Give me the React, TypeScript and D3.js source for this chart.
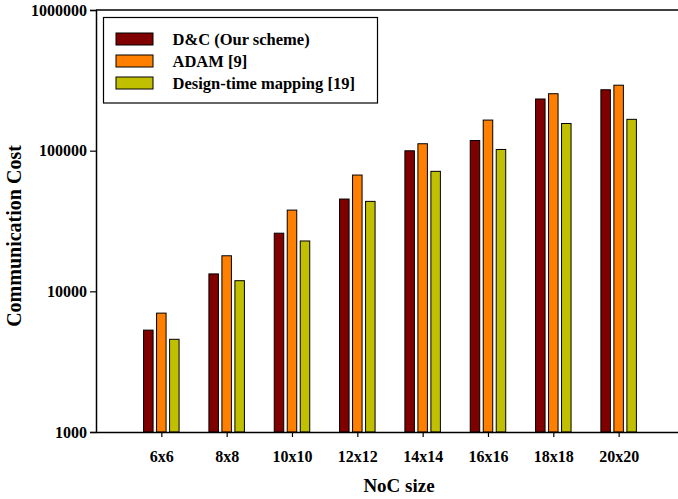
import React, { useEffect, useRef } from "react";
import * as d3 from "d3";

// NoC sizes on the x axis
const categories = ["6x6", "8x8", "10x10", "12x12", "14x14", "16x16", "18x18", "20x20"];

// Communication cost per scheme
const dcValues = [5300, 13300, 25900, 45300, 99800, 118000, 233000, 271000];
const adamValues = [7000, 17900, 37800, 67100, 112000, 165000, 254000, 292000];
const designTimeValues = [4560, 11900, 22800, 43600, 71300, 102000, 156000, 167000];

const seriesNames = ["D&C (Our scheme)", "ADAM [9]", "Design-time mapping [19]"];
const seriesColors = ["#800000", "#FF8000", "#C0C000"];

const yTicks = [1000, 10000, 100000, 1000000];

const App = () => {
  const ref = useRef<SVGSVGElement>(null);

  useEffect(() => {
    const width = 678,
      height = 499,
      left = 96,
      top = 10,
      bottom = 432,
      step = 65.33,
      barWidth = 9.5,
      barPitch = 13;

    const svg = d3.select(ref.current);
    svg.selectAll("*").remove();
    svg.attr("width", width).attr("height", height);

    const font = "'Liberation Serif', 'Times New Roman', serif";

    // x is a plain linear scale, with an empty slot before the first group
    const x = d3
      .scaleLinear()
      .domain([0, categories.length + 1])
      .range([left, left + step * (categories.length + 1)]);

    const y = d3.scaleLog().domain([1000, 1000000]).range([bottom, top]);

    const series = [dcValues, adamValues, designTimeValues];

    // Bars
    series.forEach((values, s) => {
      svg
        .append("g")
        .selectAll("rect")
        .data(values)
        .enter()
        .append("rect")
        .attr("x", (d, i) => x(i + 1) + (s - 1) * barPitch - barWidth / 2)
        .attr("y", (d) => y(d))
        .attr("width", barWidth)
        .attr("height", (d) => bottom - y(d))
        .attr("fill", seriesColors[s])
        .attr("stroke", "#000")
        .attr("stroke-width", 1);
    });

    // Frame: top line
    svg
      .append("line")
      .attr("x1", left)
      .attr("x2", width)
      .attr("y1", top)
      .attr("y2", top)
      .attr("stroke", "#000")
      .attr("stroke-width", 1.5);

    // Y axis
    const yAxis = d3
      .axisLeft(y)
      .tickValues(yTicks)
      .tickFormat((d) => String(d))
      .tickSize(6)
      .tickPadding(3);
    const gy = svg
      .append("g")
      .attr("transform", "translate(" + left + ",0)")
      .call(yAxis);
    gy.select(".domain").attr("stroke", "#000").attr("stroke-width", 1.5);
    gy.selectAll(".tick line").attr("stroke", "#000").attr("stroke-width", 1.2);
    gy.selectAll(".tick text")
      .attr("font-family", font)
      .attr("font-weight", "bold")
      .attr("font-size", "16px")
      .attr("fill", "#000");

    // X axis
    const xAxis = d3
      .axisBottom(x)
      .tickValues(categories.map((c, i) => i + 1))
      .tickFormat((d) => categories[(d as number) - 1])
      .tickSize(5)
      .tickSizeOuter(0)
      .tickPadding(14);
    const gx = svg
      .append("g")
      .attr("transform", "translate(0," + bottom + ")")
      .call(xAxis);
    gx.select(".domain").attr("stroke", "#000").attr("stroke-width", 1.5);
    gx.selectAll(".tick line").attr("stroke", "#000").attr("stroke-width", 1.2);
    gx.selectAll(".tick text")
      .attr("font-family", font)
      .attr("font-weight", "bold")
      .attr("font-size", "16px")
      .attr("fill", "#000");

    // Axis titles
    svg
      .append("text")
      .attr("transform", "translate(20.5,236) rotate(-90)")
      .attr("text-anchor", "middle")
      .attr("font-family", font)
      .attr("font-weight", "bold")
      .attr("font-size", "20px")
      .text("Communication Cost");

    svg
      .append("text")
      .attr("x", 399)
      .attr("y", 492)
      .attr("text-anchor", "middle")
      .attr("font-family", font)
      .attr("font-weight", "bold")
      .attr("font-size", "19px")
      .text("NoC size");

    // Legend
    const legend = svg.append("g");
    legend
      .append("rect")
      .attr("x", 103.5)
      .attr("y", 17.5)
      .attr("width", 274)
      .attr("height", 85.5)
      .attr("fill", "#fff")
      .attr("stroke", "#000")
      .attr("stroke-width", 1.2);

    const item = legend
      .selectAll(".item")
      .data(seriesNames)
      .enter()
      .append("g")
      .attr("transform", (d, i) => "translate(116," + (33 + i * 22) + ")");

    item
      .append("rect")
      .attr("width", 37)
      .attr("height", 12)
      .attr("fill", (d, i) => seriesColors[i])
      .attr("stroke", "#000")
      .attr("stroke-width", 1);

    item
      .append("text")
      .attr("x", 56.5)
      .attr("y", 12)
      .attr("font-family", font)
      .attr("font-weight", "bold")
      .attr("font-size", "16.5px")
      .text((d) => d);
  }, []);

  return (
    <svg
      ref={ref}
      style={{ position: "absolute", left: 0, top: 0, background: "#fff" }}
    ></svg>
  );
};

export default App;
